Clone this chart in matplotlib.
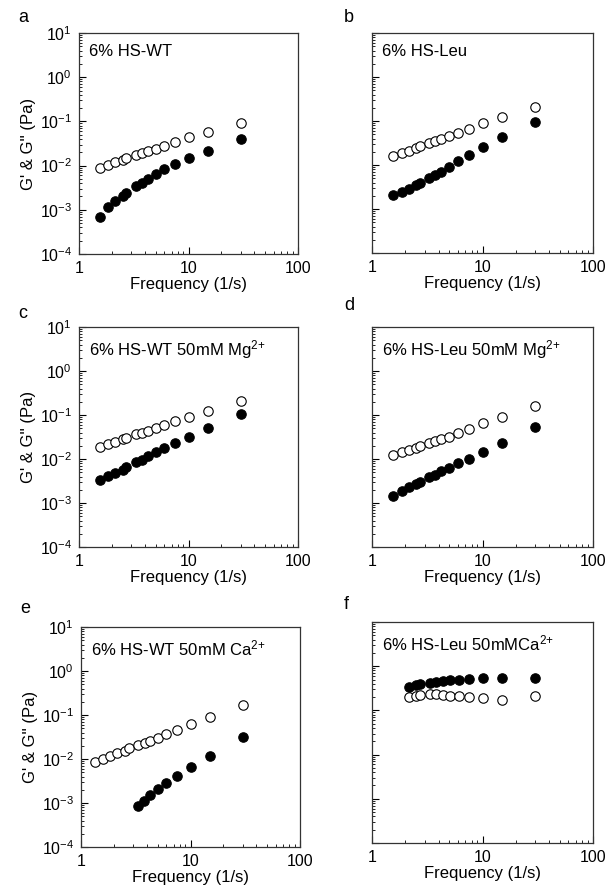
import matplotlib
matplotlib.use('Agg')
import matplotlib.pyplot as plt
from matplotlib.ticker import LogLocator, FuncFormatter, NullFormatter

plt.rcParams['font.family'] = ['Liberation Sans', 'DejaVu Sans']
plt.rcParams['mathtext.default'] = 'regular'

# frequency points (1/s)
freq = [1.55, 1.85, 2.15, 2.5, 2.7, 3.3, 3.75, 4.25, 5.0, 6.0, 7.5, 10, 15, 30]
freq_e_open = [1.35, 1.58, 1.85, 2.15, 2.5, 2.72, 3.3, 3.85, 4.3, 5.0, 6.0, 7.5, 10, 15, 30]
freq_e_fill = [3.3, 3.78, 4.3, 5.0, 6.0, 7.5, 10, 15, 30]
freq_f = [2.15, 2.5, 2.7, 3.35, 3.8, 4.35, 5.1, 6.1, 7.5, 10, 15, 30]

# G'' (open) and G' (filled), Pa
a_open = [0.0088, 0.0104, 0.0118, 0.0135, 0.0148, 0.0175, 0.0194, 0.0219, 0.0239, 0.0284, 0.0349, 0.0436, 0.0575, 0.0933]
a_fill = [0.0007, 0.00113, 0.00157, 0.00206, 0.00241, 0.0034, 0.00411, 0.00506, 0.00633, 0.0082, 0.0106, 0.0148, 0.0219, 0.0394]
b_open = [0.0158, 0.0188, 0.0212, 0.0243, 0.0265, 0.0315, 0.0343, 0.0387, 0.0445, 0.0528, 0.066, 0.0887, 0.125, 0.21]
b_fill = [0.00206, 0.00249, 0.00291, 0.00346, 0.00384, 0.00506, 0.0058, 0.0069, 0.0091, 0.0122, 0.0166, 0.0252, 0.0422, 0.0933]
c_open = [0.0185, 0.0217, 0.0245, 0.0281, 0.0296, 0.0365, 0.0398, 0.0442, 0.0499, 0.0594, 0.0731, 0.0917, 0.125, 0.207]
c_fill = [0.00326, 0.00402, 0.00478, 0.00569, 0.00643, 0.00848, 0.00957, 0.0114, 0.0143, 0.0176, 0.0232, 0.0323, 0.0516, 0.1035]
d_open = [0.0122, 0.0145, 0.0161, 0.0182, 0.0199, 0.0236, 0.0262, 0.0286, 0.0323, 0.0384, 0.0482, 0.0647, 0.0917, 0.163]
d_fill = [0.00147, 0.0019, 0.00226, 0.00269, 0.00299, 0.00381, 0.00438, 0.00521, 0.0062, 0.00805, 0.0101, 0.0148, 0.0236, 0.0544]
e_open = [0.00848, 0.0099, 0.0118, 0.0136, 0.0156, 0.0182, 0.0209, 0.0236, 0.0262, 0.0307, 0.0365, 0.0457, 0.0615, 0.0885, 0.168]
e_fill = [0.00084, 0.00113, 0.00149, 0.00207, 0.00279, 0.00408, 0.00653, 0.0118, 0.0312]
f_open = [0.202, 0.213, 0.22, 0.236, 0.236, 0.228, 0.217, 0.209, 0.199, 0.189, 0.176, 0.209]
f_fill = [0.339, 0.376, 0.395, 0.424, 0.446, 0.462, 0.478, 0.494, 0.512, 0.53, 0.548, 0.53]

titles = ['6% HS-WT', '6% HS-Leu', '6% HS-WT 50mM Mg$^{2{+}}$',
          '6% HS-Leu 50mM Mg$^{2{+}}$', '6% HS-WT 50mM Ca$^{2{+}}$', '6% HS-Leu 50mMCa$^{2{+}}$']
letters = ['a', 'b', 'c', 'd', 'e', 'f']

panels = [
    (freq, a_open, freq, a_fill),
    (freq, b_open, freq, b_fill),
    (freq, c_open, freq, c_fill),
    (freq, d_open, freq, d_fill),
    (freq_e_open, e_open, freq_e_fill, e_fill),
    (freq_f, f_open, freq_f, f_fill),
]

W, H = 608, 892
# axes boxes in pixels: left, top, right, bottom
boxes = [(79, 33, 298, 254), (372, 33, 593, 253),
         (79, 327, 298, 547), (372, 327, 593, 547),
         (81, 627, 300, 847), (372, 622, 593, 843)]
letter_pos = [(18, 22), (344, 22), (18, 318), (344, 310), (20, 613), (344, 609)]

fig = plt.figure(figsize=(W / 100, H / 100), dpi=100)

for i in range(6):
    l, t, r, b = boxes[i]
    ax = fig.add_axes([l / W, 1 - b / H, (r - l) / W, (b - t) / H])
    xo, yo, xf, yf = panels[i]
    ax.plot(xo, yo, 'o', ms=6.8, mfc='white', mec='black', mew=0.8, ls='none')
    ax.plot(xf, yf, 'o', ms=6.8, mfc='black', mec='black', mew=0.8, ls='none')
    ax.set_xscale('log')
    ax.set_yscale('log')
    ax.set_xlim(1, 100)
    ax.set_ylim(1e-4, 1e1)
    ax.xaxis.set_major_locator(LogLocator(base=10, numticks=10))
    ax.xaxis.set_minor_locator(LogLocator(base=10, subs=range(2, 10), numticks=20))
    ax.yaxis.set_major_locator(LogLocator(base=10, numticks=10))
    ax.yaxis.set_minor_locator(LogLocator(base=10, subs=range(2, 10), numticks=20))
    ax.xaxis.set_major_formatter(FuncFormatter(lambda v, p: '%d' % round(v)))
    ax.xaxis.set_minor_formatter(NullFormatter())
    ax.yaxis.set_minor_formatter(NullFormatter())
    if i % 2 == 1:
        ax.yaxis.set_major_formatter(NullFormatter())
    else:
        ax.set_ylabel("G' & G'' (Pa)", fontsize=12, labelpad=3)
    ax.tick_params(which='major', direction='in', length=5, width=0.8, labelsize=11.5,
                   top=False, right=False, pad=5)
    ax.tick_params(which='minor', direction='in', length=2.5, width=0.6,
                   top=False, right=False)
    for s in ax.spines.values():
        s.set_linewidth(0.9)
        s.set_color('#333333')
    ax.set_xlabel('Frequency (1/s)', fontsize=12, labelpad=1)
    ax.text(0.045, 0.95, titles[i], transform=ax.transAxes, fontsize=12,
            ha='left', va='top')
    fig.text(letter_pos[i][0] / W, 1 - letter_pos[i][1] / H, letters[i], fontsize=13,
             ha='left', va='baseline')

fig.savefig('out.png', dpi=100)
